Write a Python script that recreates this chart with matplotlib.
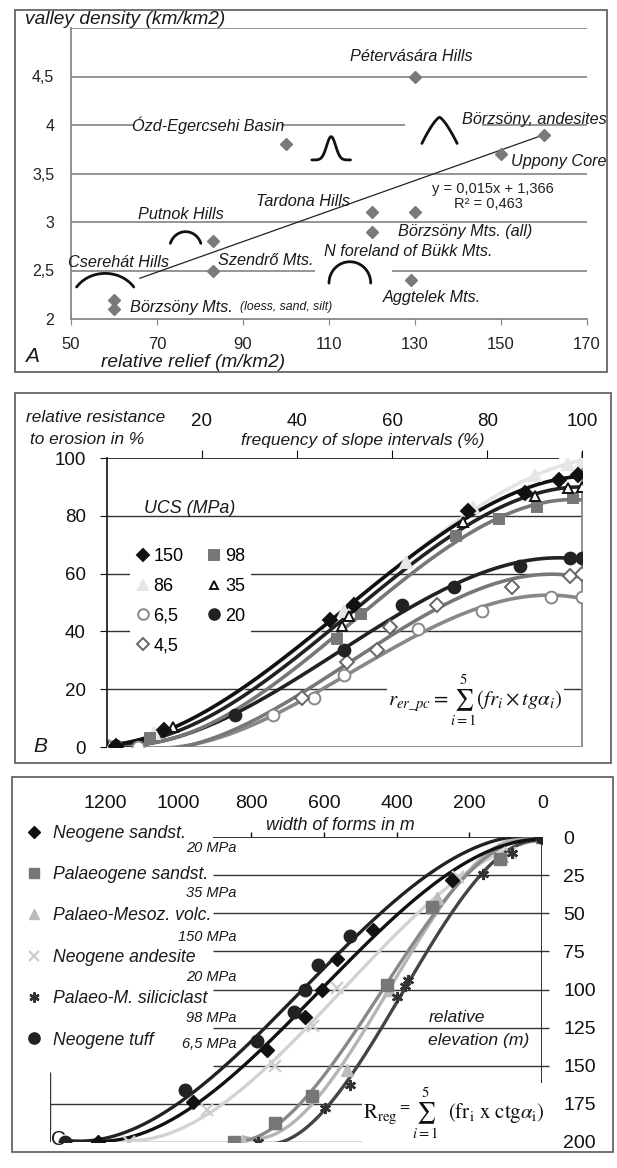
import numpy as np
import matplotlib.pyplot as plt
from matplotlib.patches import Rectangle
from matplotlib.lines import Line2D

W, H = 617, 1168
ITAL = ['Liberation Sans', 'DejaVu Sans']
plt.rcParams['font.family'] = ['Liberation Sans', 'DejaVu Sans']
plt.rcParams['mathtext.fontset'] = 'stix'

# ---------------- panel A data ----------------
relief = [130, 100, 160, 150, 120, 130, 120, 83, 83, 129, 60, 60]
density = [4.5, 3.8, 3.9, 3.7, 3.1, 3.1, 2.9, 2.8, 2.5, 2.4, 2.2, 2.1]
trend_x = [66, 160]
trend_y = [2.42, 3.9]
a_xticks = [50, 70, 90, 110, 130, 150, 170]
a_yticks = [2, 2.5, 3, 3.5, 4, 4.5]
a_yticklabels = ['2', '2,5', '3', '3,5', '4', '4,5']
region_names = ['Pétervására Hills', 'Ózd-Egercsehi Basin', 'Börzsöny, andesites',
                'Uppony Core', 'Tardona Hills', 'Putnok Hills', 'Börzsöny Mts. (all)',
                'N foreland of Bükk Mts.', 'Cserehát Hills', 'Szendrő Mts.',
                'Aggtelek Mts.', 'Börzsöny Mts.']
# label anchor (x, y, ha)
region_pos = [(129.2, 4.71, 'center'), (82, 4.0, 'center'), (174.5, 4.06, 'right'),
              (174.5, 3.62, 'right'), (104, 3.21, 'center'), (75.6, 3.08, 'center'),
              (141.7, 2.90, 'center'), (128.4, 2.70, 'center'), (61, 2.58, 'center'),
              (95.4, 2.60, 'center'), (134, 2.22, 'center'), (63.7, 2.12, 'left')]
# valley cross-section glyphs: x0, x1, base, top, kind
glyphs = [(51.3, 64.6, 2.33, 2.47, 56), (73.1, 80.2, 2.78, 2.90, 71),
          (110, 119.7, 2.37, 2.59, 90), (106, 115, 3.64, 3.88, 'bell'),
          (131.6, 139.8, 3.81, 4.08, 'peak')]
a_grid = {5.0: [(50, 170)], 4.5: [(50, 170)], 4.0: [(50, 64.7), (98.9, 127.7), (145.6, 170)],
          3.5: [(50, 170)], 3.0: [(50, 170)], 2.5: [(50, 106.7), (124.7, 170)]}

# ---------------- panel B data ----------------
ucs = ['150', '98', '86', '35', '6,5', '20', '4,5']
b_x = [[2, 12, 47, 52, 76, 88, 95, 99],
       [2, 9, 48.5, 53.5, 73.5, 82.5, 90.5, 98],
       [1, 10, 50, 63, 77, 90, 97, 100],
       [2, 14, 49.5, 51, 75, 90, 97, 100],
       [6.5, 35, 43.5, 50, 65.5, 79, 93.5, 100],
       [2, 27, 50, 62, 73, 87, 97.5, 100],
       [2, 41, 50.5, 56.8, 59.6, 69.5, 85.3, 97.5, 100]]
b_y = [[0.5, 6, 44, 49, 81.5, 88, 92.5, 94],
       [0, 3, 37.5, 46, 73, 79, 83, 86],
       [0, 5, 47, 64, 83, 94, 98, 99],
       [0, 7, 42, 45.5, 78, 87, 89.5, 90],
       [0, 11, 17, 25, 41, 47, 52, 52],
       [0.5, 11, 33.5, 49, 55.5, 62.5, 65.5, 65.5],
       [0, 17, 29.5, 33.6, 41.6, 49, 55.5, 59, 60]]
b_style = {'150': dict(marker='D', ms=7, mfc='#111', mec='#111', lc='#111'),
           '98': dict(marker='s', ms=7.5, mfc='#777', mec='#777', lc='#777'),
           '86': dict(marker='^', ms=8, mfc='#e6e6e6', mec='#e6e6e6', lc='#e4e4e4'),
           '35': dict(marker='^', ms=7, mfc='white', mec='#111', lc='#222'),
           '6,5': dict(marker='o', ms=8.5, mfc='white', mec='#888', lc='#888'),
           '20': dict(marker='o', ms=8.5, mfc='#222', mec='#222', lc='#222'),
           '4,5': dict(marker='D', ms=7, mfc='white', mec='#666', lc='#777')}
b_draw_order = ['86', '6,5', '4,5', '20', '98', '35', '150']
b_legend_order = ['150', '86', '6,5', '4,5', '98', '35', '20']

# ---------------- panel C data ----------------
rocks = ['Neogene sandst.', 'Palaeogene sandst.', 'Palaeo-Mesoz. volc.',
         'Neogene andesite', 'Palaeo-M. siliciclast', 'Neogene tuff']
mpa = ['20 MPa', '35 MPa', '150 MPa', '20 MPa', '98 MPa', '6,5 MPa']
c_width = [[0, 249, 464, 564, 605, 651, 757, 958, 1219],
           [0, 116, 304, 427, 633, 734, 848],
           [0, 110, 290, 420, 537, 734, 821],
           [0, 89, 231, 564, 629, 734, 921, 1136],
           [0, 84, 162, 368, 377, 400, 528, 596, 780],
           [0, 528, 615, 651, 683, 784, 981, 1310]]
c_elev = [[0, 28, 61, 80, 100, 118, 140, 174, 200],
          [0, 14, 46, 97, 170, 188, 200],
          [0, 12, 40, 100, 153, 188, 200],
          [0, 10.5, 26, 99, 124, 150, 179, 200],
          [0, 10.5, 24, 94, 98, 105, 163, 178, 200],
          [0, 65, 84, 100, 115, 134, 166, 200]]
c_style = [dict(marker='D', ms=7, mfc='#111', mec='#111', mew=1, lc='#111'),
           dict(marker='s', ms=8, mfc='#777', mec='#777', mew=1, lc='#888'),
           dict(marker='^', ms=8, mfc='#bbb', mec='#bbb', mew=1, lc='#b5b5b5'),
           dict(marker='x', ms=8, mfc='#ccc', mec='#ccc', mew=1.6, lc='#d2d2d2'),
           dict(marker=(6, 2, 0), ms=8, mfc='#333', mec='#333', mew=1.8, lc='#444'),
           dict(marker='o', ms=9, mfc='#222', mec='#222', mew=1, lc='#222')]
c_draw_order = [3, 2, 1, 4, 0, 5]
width_ticks = [1200, 1000, 800, 600, 400, 200, 0]
elev_ticks = [0, 25, 50, 75, 100, 125, 150, 175, 200]


fig = plt.figure(figsize=(W / 100, H / 100), dpi=100)
fig.patch.set_facecolor('white')


def fbox(l, t, r, b):
    return [l / W, 1 - b / H, (r - l) / W, (b - t) / H]


def frame(l, t, r, b):
    fig.add_artist(Rectangle((l / W, 1 - b / H), (r - l) / W, (b - t) / H,
                             transform=fig.transFigure, fill=False, ec='#666', lw=1.3))


def ftext(x, y, s, **kw):
    kw.setdefault('va', 'center')
    fig.text(x / W, 1 - y / H, s, **kw)


def italic(size):
    return dict(family=ITAL, style='italic', fontsize=size, color='#1a1a1a')


# ======================= A =======================
frame(15, 10, 607, 372)
axA = fig.add_axes(fbox(71, 28, 587, 319))
axA.set_xlim(50, 170)
axA.set_ylim(2, 5)
for s in ['top', 'right']:
    axA.spines[s].set_visible(False)
for s in ['left', 'bottom']:
    axA.spines[s].set_color('#888')
    axA.spines[s].set_linewidth(1.3)
for yv, segs in a_grid.items():
    for x0, x1 in segs:
        axA.hlines(yv, x0, x1, color='#8c8c8c', lw=1.3, zorder=1)
axA.set_xticks(a_xticks)
axA.set_yticks(a_yticks)
axA.set_yticklabels(a_yticklabels)
axA.tick_params(axis='x', direction='out', length=4, color='#888', pad=9, labelsize=12, labelcolor='#222')
axA.tick_params(axis='y', length=0, pad=12, labelsize=11.5, labelcolor='#222')

axA.plot(trend_x, trend_y, color='#222', lw=0.9, zorder=2)
axA.plot(relief, density, ls='none', marker='D', ms=6.5, color='#7a7a7a', zorder=3)

for x0, x1, yb, yt, kind in glyphs:
    if kind == 'bell':
        xs = np.linspace(x0, x1, 80)
        u = (xs - (x0 + x1) / 2) / ((x1 - x0) / 2)
        ys = yb + (yt - yb) * np.exp(-(u / 0.33) ** 2)
    elif kind == 'peak':
        xs = np.linspace(x0, x1, 80)
        u = (xs - (x0 + x1) / 2) / ((x1 - x0) / 2)
        ys = yb + (yt - yb) * (1 - np.abs(u) ** 1.35)
    else:
        ph = np.radians(kind)
        t = np.linspace(np.pi / 2 - ph, np.pi / 2 + ph, 80)
        xs = (x0 + x1) / 2 + (x1 - x0) / 2 * np.cos(t) / np.sin(ph)
        ys = yb + (yt - yb) * (np.sin(t) - np.cos(ph)) / (1 - np.cos(ph))
    axA.plot(xs, ys, color='#111', lw=2, zorder=4, solid_capstyle='round')

for name, (x, y, ha) in zip(region_names, region_pos):
    axA.text(x, y, name, ha=ha, va='center', zorder=5, **italic(11.7))
axA.text(89.3, 2.12, '(loess, sand, silt)', ha='left', va='center', zorder=5, **italic(8.8))
axA.text(148, 3.34, 'y = 0,015x + 1,366', ha='center', va='center', fontsize=10.5, color='#222', zorder=5)
axA.text(147, 3.19, 'R² = 0,463', ha='center', va='center', fontsize=10.5, color='#222', zorder=5)

ftext(25, 20, 'valley density (km/km2)', ha='left', **italic(13.8))
ftext(193, 362, 'relative relief (m/km2)', ha='center', **italic(13.8))
ftext(25, 357, 'A', ha='left', **italic(15))

# ======================= B =======================
frame(15, 393, 611, 763)
axB = fig.add_axes(fbox(106.7, 458, 582.3, 747))
axB.set_xlim(0, 100)
axB.set_ylim(0, 100)
for s in ['top', 'right', 'bottom']:
    axB.spines[s].set_visible(False)
axB.spines['left'].set_color('#111')
axB.spines['left'].set_linewidth(1.2)
axB.hlines([20, 40, 60, 80], 0, 100, color='#333', lw=1, zorder=1)
axB.hlines(100, 0, 95, color='#111', lw=1.2, zorder=1)
axB.hlines(0, 0, 100, color='#888', lw=1.3, zorder=1)
axB.vlines(100, 0, 102, color='#888', lw=1.3, zorder=1, clip_on=False)
axB.xaxis.tick_top()
axB.set_xticks([20, 40, 60, 80, 100])
axB.set_yticks([0, 20, 40, 60, 80, 100])
axB.tick_params(axis='x', direction='out', length=6, color='#111', pad=14, labelsize=13.5, labelcolor='#111')
axB.tick_params(axis='y', direction='out', length=5, color='#111', pad=10, labelsize=13.5, labelcolor='#111')

xx = np.linspace(0, 100, 200)
for lab in b_draw_order:
    i = ucs.index(lab)
    st = b_style[lab]
    coef = np.polyfit(b_x[i], b_y[i], 3)
    axB.plot(xx, np.polyval(coef, xx), color=st['lc'], lw=2.6, zorder=2)
    axB.plot(b_x[i], b_y[i], ls='none', marker=st['marker'], ms=st['ms'],
             mfc=st['mfc'], mec=st['mec'], mew=1.4, zorder=3)

handles = [Line2D([], [], ls='none', marker=b_style[k]['marker'], ms=b_style[k]['ms'] * 0.9,
                  mfc=b_style[k]['mfc'], mec=b_style[k]['mec'], mew=1.4) for k in b_legend_order]
leg = axB.legend(handles, b_legend_order, ncol=2, loc='upper left', bbox_to_anchor=(0.03, 0.737),
                 frameon=True, facecolor='white', edgecolor='none', framealpha=1, fontsize=13,
                 handlelength=0.8, handletextpad=0.2, columnspacing=1.3, labelspacing=0.7,
                 borderpad=0.3)
leg.set_zorder(4)

axB.text(77.5, 16.3, r'$r_{er\_pc}=\sum_{i=1}^{5}(fr_i\times tg\alpha_i)$', ha='center', va='center',
         fontsize=15, color='#111', bbox=dict(fc='white', ec='none', pad=1), zorder=5)
ftext(26, 417, 'relative resistance', ha='left', **italic(12.4))
ftext(30, 440, 'to erosion in %', ha='left', **italic(12.4))
ftext(363, 440, 'frequency of slope intervals (%)', ha='center', **italic(12.5))
ftext(144, 508, 'UCS (MPa)', ha='left', **italic(12.9))
ftext(33, 746, 'B', ha='left', **italic(15))

# ======================= C =======================
frame(12, 777, 613, 1152)
axC = fig.add_axes(fbox(50, 837.3, 542.3, 1141.7))
axC.set_xlim(1352, 0)
axC.set_ylim(200, 0)
for s in axC.spines.values():
    s.set_visible(False)
axC.hlines([25, 50, 75, 100, 125, 150], 903, -18, color='#333', lw=1, zorder=1, clip_on=False)
axC.hlines([175, 200], 1352, 0, color='#333', lw=1, zorder=1)
axC.hlines(0, 903, 0, color='#111', lw=1.2, zorder=1)
axC.vlines(0, 0, 164, color='#111', lw=1.2, zorder=1)
axC.vlines(1352, 154, 200, color='#333', lw=1, zorder=1)
axC.vlines([200, 400, 600, 800], 0, -3.5, color='#111', lw=1, clip_on=False)
axC.xaxis.tick_top()
axC.set_xticks(width_ticks)
axC.yaxis.tick_right()
axC.set_yticks(elev_ticks)
axC.tick_params(axis='x', length=0, pad=18, labelsize=14, labelcolor='#111')
axC.tick_params(axis='y', length=0, pad=15, labelsize=14, labelcolor='#111')

axC.text(1349, 198.5, 'C', ha='left', va='center', family=ITAL, fontsize=15, color='#1a1a1a',
         bbox=dict(fc='white', ec='none', pad=0.3), zorder=1.5)

for i in c_draw_order:
    st = c_style[i]
    coef = np.polyfit(c_width[i], c_elev[i], 3)
    mm = np.linspace(0, max(c_width[i]), 200)
    axC.plot(mm, np.polyval(coef, mm), color=st['lc'], lw=2.4, zorder=2)
    axC.plot(c_width[i], c_elev[i], ls='none', marker=st['marker'], ms=st['ms'],
             mfc=st['mfc'], mec=st['mec'], mew=st['mew'], zorder=3)

handles = [Line2D([], [], ls='none', marker=st['marker'], ms=st['ms'] * 0.9, mfc=st['mfc'],
                  mec=st['mec'], mew=st['mew']) for st in c_style]
leg = axC.legend(handles, rocks, loc='upper left', bbox_to_anchor=(-0.065, 1.07), frameon=False,
                 prop=dict(family=ITAL, style='italic', size=12.7), handlelength=0.8,
                 handletextpad=0.7, labelspacing=1.38, borderpad=0)
for t in leg.get_texts():
    t.set_color('#1a1a1a')
for lab, y in zip(mpa, [848, 893, 937, 977, 1018, 1044]):
    ftext(236, y, lab, ha='right', **italic(10.5))

axC.text(242, 181, r'$\mathrm{R_{reg}}^{=}\sum_{i=1}^{5}\ \ (\mathrm{fr_i\ x\ ctg}\alpha_\mathrm{i})$',
         ha='center', va='center', fontsize=15, color='#111',
         bbox=dict(fc='white', ec='none', pad=1), zorder=5)
axC.text(555, -8, 'width of forms in m', ha='center', va='center', **italic(12.8))
axC.text(313, 118.7, 'relative', ha='left', va='center', **italic(12.6))
axC.text(313, 133.2, 'elevation (m)', ha='left', va='center', **italic(12.6))

fig.savefig('out.png', dpi=100, facecolor='white')
